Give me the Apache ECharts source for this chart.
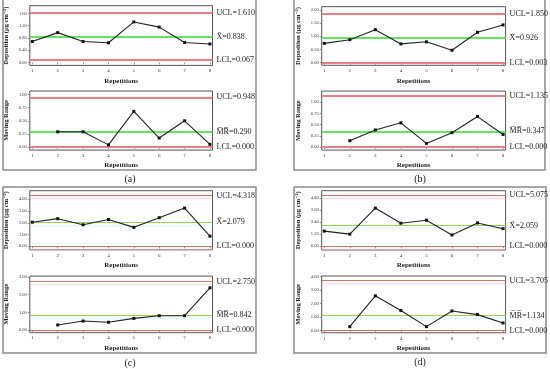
<!DOCTYPE html>
<html><head><meta charset="utf-8">
<script src="https://cdn.jsdelivr.net/npm/echarts@6/dist/echarts.min.js"></script>
<style>html,body{margin:0;padding:0;background:#fff}#c{width:550px;height:369px}</style>
</head><body><div id="c"></div>
<script>
const reps = [1, 2, 3, 4, 5, 6, 7, 8];

const depA = [0.68, 0.97, 0.68, 0.64, 1.32, 1.15, 0.65, 0.60];
const mrA  = [null, 0.29, 0.29, 0.04, 0.68, 0.17, 0.50, 0.05];
const depB = [0.73, 0.87, 1.25, 0.71, 0.79, 0.47, 1.15, 1.43];
const mrB  = [null, 0.14, 0.38, 0.54, 0.08, 0.32, 0.68, 0.28];
const depC = [2.05, 2.35, 1.83, 2.28, 1.61, 2.43, 3.25, 0.86];
const mrC  = [null, 0.30, 0.52, 0.45, 0.67, 0.82, 0.82, 2.39];
const depD = [1.50, 1.20, 3.78, 2.28, 2.58, 1.12, 2.31, 1.74];
const mrD  = [null, 0.30, 2.58, 1.50, 0.30, 1.46, 1.19, 0.57];

// [UCL, centre, LCL]
const limDepA = [1.610, 0.838, 0.067];
const limMrA  = [0.948, 0.290, 0.000];
const limDepB = [1.850, 0.926, 0.003];
const limMrB  = [1.135, 0.347, 0.000];
const limDepC = [4.318, 2.079, 0.000];
const limMrC  = [2.750, 0.842, 0.000];
const limDepD = [5.075, 2.059, 0.000];
const limMrD  = [3.705, 1.134, 0.000];

const ticksDepA = [0, 0.4, 0.8, 1.2, 1.6];
const ticksMrA  = [0, 0.25, 0.5, 0.75, 1.0];
const ticksDepB = [0, 0.5, 1.0, 1.5, 2.0];
const ticksMrB  = [0, 0.25, 0.5, 0.75, 1.0];
const ticksDepC = [0, 1, 2, 3, 4];
const ticksMrC  = [0, 1, 2, 3];
const ticksDepD = [0, 1.2, 2.4, 3.6, 4.8];
const ticksMrD  = [0, 1, 2, 3, 4];

const panelLabels = ['(a)', '(b)', '(c)', '(d)'];
const depName = 'Deposition (\u00b5g cm\u207b\u00b2)';
const mrName = 'Moving Range';
const xName = 'Repetitions';
const xbarTxt = 'X\u0304';
const mrbarTxt = 'M\u0305R\u0305';

const SERIF = '"Liberation Serif", "DejaVu Serif", serif';

// layout: [left, top, width, height, ymin, ymax]
const charts = [
  {g:[29.8, 5.7, 182.7, 59.7], y:[-0.1, 1.85], data:depA, lim:limDepA, ticks:ticksDepA, name:depName, mr:false, style:'A'},
  {g:[29.8, 91.0, 182.7, 59.1], y:[-0.06, 1.07], data:mrA, lim:limMrA, ticks:ticksMrA, name:mrName, mr:true, style:'A'},
  {g:[321.7, 6.7, 183.9, 58.6], y:[-0.1, 2.12], data:depB, lim:limDepB, ticks:ticksDepB, name:depName, mr:false, style:'A'},
  {g:[321.7, 91.1, 183.9, 59.0], y:[-0.07, 1.25], data:mrB, lim:limMrB, ticks:ticksMrB, name:mrName, mr:true, style:'A'},
  {g:[29.8, 190.7, 182.7, 59.1], y:[-0.3, 4.73], data:depC, lim:limDepC, ticks:ticksDepC, name:depName, mr:false, style:'C'},
  {g:[29.8, 276.1, 182.7, 56.3], y:[-0.12, 3.05], data:mrC, lim:limMrC, ticks:ticksMrC, name:mrName, mr:true, style:'C'},
  {g:[321.7, 190.7, 183.9, 59.3], y:[-0.37, 5.5], data:depD, lim:limDepD, ticks:ticksDepD, name:depName, mr:false, style:'C'},
  {g:[321.7, 276.0, 183.9, 56.7], y:[-0.15, 4.05], data:mrD, lim:limMrD, ticks:ticksMrD, name:mrName, mr:true, style:'C'}
];

function limStyles(style) {
  if (style === 'A') {
    return {
      red: {color:'#f07d86', width:2, type:'solid'},
      green: {color:'#62e662', width:2, type:'solid'}
    };
  }
  return {
    red: {color:'#c47a60', width:1, type:'solid', shadowColor:'rgba(245,180,205,0.8)', shadowBlur:2, shadowOffsetY:3},
    green: {color:'#96d24e', width:1, type:'solid', shadowColor:'rgba(190,240,240,0.9)', shadowBlur:2, shadowOffsetY:3}
  };
}

const grid = [], xAxis = [], yAxis = [], series = [];
charts.forEach((c, i) => {
  grid.push({left:c.g[0], top:c.g[1], width:c.g[2], height:c.g[3], show:true,
    borderColor:'#555', borderWidth:1, backgroundColor:'transparent', containLabel:false});
  xAxis.push({type:'value', gridIndex:i, min:0.9, max:8.1, name:xName, nameLocation:'middle', nameGap:12,
    nameTextStyle:{fontFamily:SERIF, fontWeight:'bold', fontSize:7, color:'#222'},
    axisLine:{show:false}, splitLine:{show:false},
    axisTick:{show:true, customValues:reps, length:2, lineStyle:{color:'#555', width:0.6}},
    axisLabel:{show:true, customValues:reps, fontSize:5, fontFamily:SERIF, color:'#333', margin:3,
      formatter:v => String(v)}});
  yAxis.push({type:'value', gridIndex:i, min:c.y[0], max:c.y[1], name:c.name, nameLocation:'middle',
    nameRotate:90, nameGap:20,
    nameTextStyle:{fontFamily:SERIF, fontWeight:'bold', fontSize:6.5, color:'#222'},
    axisLine:{show:false}, splitLine:{show:false},
    axisTick:{show:true, customValues:c.ticks, length:2, lineStyle:{color:'#555', width:0.6}},
    axisLabel:{show:true, customValues:c.ticks, fontSize:4.5, fontFamily:SERIF, color:'#333', margin:3,
      formatter:v => v.toFixed(2)}});
  const st = limStyles(c.style);
  const cTxt = c.mr ? mrbarTxt : xbarTxt;
  const lab = (t) => ({show:true, position:'end', distance:4, formatter:t, fontFamily:SERIF, fontSize:8, color:'#222'});
  series.push({
    type:'line', xAxisIndex:i, yAxisIndex:i,
    data: reps.map((r, k) => [r, c.data[k]]).filter(p => p[1] !== null),
    symbol:'rect', symbolSize:3, itemStyle:{color:'#111'},
    lineStyle:{color:'#222', width:1.1}, z:5, animation:false,
    markLine:{silent:true, symbol:'none', animation:false, z:2,
      data:[
        {yAxis:c.lim[0], lineStyle:st.red, label:lab('UCL=' + c.lim[0].toFixed(3))},
        {yAxis:c.lim[1], lineStyle:st.green, label:lab(cTxt + '=' + c.lim[1].toFixed(3))},
        {yAxis:c.lim[2], lineStyle:st.red, label:lab('LCL=' + c.lim[2].toFixed(3))}
      ]}
  });
});

const boxes = [[3, -1, 253, 171], [294, -1, 251, 171], [3, 187, 253, 166], [294, 187, 252, 166]];
const capPos = [[130, 179], [420, 179], [130, 363], [420, 362]];
const graphic = [];
boxes.forEach(b => graphic.push({type:'rect', shape:{x:b[0], y:b[1], width:b[2], height:b[3]},
  style:{fill:'none', stroke:'#8a8a8a', lineWidth:1.5}, z:0, silent:true}));
capPos.forEach((p, i) => graphic.push({type:'text', x:p[0], y:p[1],
  style:{text:panelLabels[i], fontFamily:SERIF, fontSize:10, fill:'#222', align:'center', verticalAlign:'middle'}}));

const chart = echarts.init(document.getElementById('c'), null, {renderer:'canvas'});
chart.setOption({animation:false, grid, xAxis, yAxis, series, graphic});
</script></body></html>
